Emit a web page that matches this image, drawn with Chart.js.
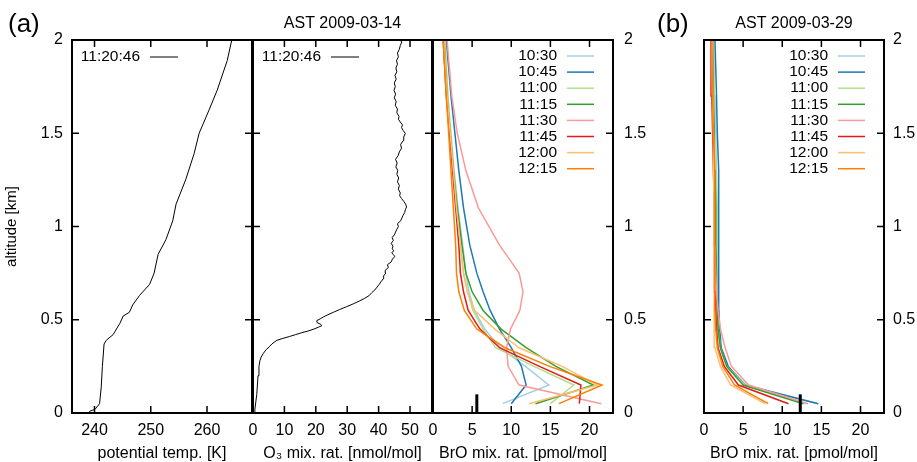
<!DOCTYPE html>
<html>
<head>
<meta charset="utf-8">
<title>Vertical profiles</title>
<script src="https://cdn.jsdelivr.net/npm/chart.js"></script>
<style>
  body { margin: 0; background: #fff; }
  #wrap { position: relative; width: 917px; height: 462px; }
  #wrap canvas { position: absolute; left: 0; top: 0; }
</style>
</head>
<body>
<div id="wrap">
  <canvas id="thetaChart" width="917" height="462"></canvas>
  <canvas id="ozoneChart" width="917" height="462"></canvas>
  <canvas id="broChartA" width="917" height="462"></canvas>
  <canvas id="broChartB" width="917" height="462"></canvas>
</div>
<script>
// ---- axis ticks ----
const altTicks = [0, 0.5, 1, 1.5, 2];
const altTickLabels = ['0', '0.5', '1', '1.5', '2'];
const thetaTicks = [240, 250, 260];
const ozoneTicks = [0, 10, 20, 30, 40, 50];
const broTicks = [0, 5, 10, 15, 20];

// ---- radiosonde / ozonesonde (2009-03-14) ----
const sondeTime = '11:20:46';
const thetaAlt = [0.0, 0.01, 0.02, 0.05, 0.14, 0.25, 0.37, 0.39, 0.42, 0.48, 0.52, 0.54, 0.58, 0.63,
  0.69, 0.75, 0.85, 0.93, 1.03, 1.12, 1.25, 1.39, 1.5, 1.62, 1.73, 1.89, 2.0];
const thetaK = [238.9, 239.2, 240.1, 240.9, 241.2, 241.4, 241.7, 242.1, 243.3, 244.5, 245.1, 246.2, 246.8, 248.0,
  249.8, 250.6, 251.3, 252.7, 253.9, 254.5, 256.2, 257.7, 258.6, 260.3, 261.8, 263.6, 264.4];

const ozoneAlt = [0.0, 0.02, 0.06, 0.10, 0.15, 0.20, 0.25, 0.28, 0.30, 0.32, 0.34, 0.355, 0.37, 0.38, 0.39,
  0.40, 0.41, 0.42, 0.43, 0.44, 0.45, 0.46, 0.468, 0.475, 0.485, 0.495, 0.505, 0.515, 0.525, 0.54,
  0.555, 0.57, 0.585, 0.60, 0.615, 0.63, 0.645, 0.66, 0.675, 0.69, 0.705, 0.72, 0.735, 0.75, 0.765,
  0.78, 0.795, 0.81, 0.825, 0.84, 0.85, 0.86, 0.87, 0.88, 0.895, 0.91, 0.925, 0.94, 0.955, 0.97,
  0.985, 1.00, 1.015, 1.03, 1.045, 1.06, 1.075, 1.09, 1.105, 1.12, 1.135, 1.15, 1.165, 1.18, 1.20,
  1.22, 1.24, 1.26, 1.28, 1.30, 1.32, 1.34, 1.36, 1.38, 1.40, 1.42, 1.44, 1.46, 1.48, 1.50,
  1.515, 1.53, 1.545, 1.56, 1.575, 1.59, 1.61, 1.63, 1.65, 1.67, 1.69, 1.71, 1.73, 1.75, 1.77,
  1.79, 1.81, 1.83, 1.85, 1.87, 1.89, 1.91, 1.93, 1.95, 1.97, 1.99, 2.0];
const ozoneVal = [0.4, 0.6, 0.9, 1.2, 1.4, 1.6, 1.9, 2.2, 2.6, 3.3, 4.2, 5.2, 6.0, 6.8, 7.6,
  9.5, 11.6, 13.5, 15.4, 17.6, 19.4, 20.8, 21.9, 21.6, 20.4, 20.3, 21.4, 22.4, 23.6, 25.6,
  27.6, 29.8, 31.9, 33.8, 35.6, 37.0, 37.8, 38.8, 39.5, 40.2, 40.8, 41.5, 41.6, 42.3, 42.1,
  43.1, 42.8, 44.0, 44.4, 45.2, 44.6, 44.2, 44.9, 44.3, 44.6, 44.0, 44.7, 44.3, 45.0, 45.4,
  45.8, 46.3, 46.0, 47.0, 47.4, 47.8, 48.3, 48.5, 48.9, 48.6, 48.0, 47.3, 46.7, 46.9, 46.3,
  46.6, 46.0, 46.4, 45.8, 46.1, 45.5, 45.9, 45.4, 46.2, 46.6, 47.3, 47.0, 47.8, 48.0, 48.5,
  47.8, 47.3, 47.6, 46.9, 46.3, 46.5, 45.8, 46.0, 45.3, 45.6, 45.0, 45.4, 44.9, 45.3, 45.0,
  45.6, 45.2, 45.8, 45.5, 46.0, 45.7, 46.3, 46.0, 46.6, 46.9, 47.4, 47.2];

// ---- MAX-DOAS BrO profiles ----
const scanTimes = ['10:30', '10:45', '11:00', '11:15', '11:30', '11:45', '12:00', '12:15'];
const broAlt = [0.05, 0.15, 0.25, 0.35, 0.45, 0.55, 0.65, 0.75, 0.9, 1.1, 1.3, 1.5, 1.7, 2.0];

// 2009-03-14
const bro0314_1030 = [8.9, 14.8, 11.8, 8.6, 6.6, 5.3, 4.6, 4.2, 3.8, 3.2, 2.7, 2.3, 1.9, 1.5];
const bro0314_1045 = [10.0, 11.9, 11.3, 10.0, 8.5, 7.3, 6.4, 5.6, 4.7, 3.9, 3.3, 2.8, 2.3, 1.7];
const bro0314_1100 = [15.0, 18.0, 12.9, 8.0, 6.4, 5.1, 4.4, 3.9, 3.5, 3.1, 2.6, 2.2, 1.9, 1.5];
const bro0314_1115 = [13.1, 20.5, 15.7, 11.9, 8.7, 6.4, 5.0, 4.2, 3.7, 3.1, 2.6, 2.2, 1.8, 1.4];
const bro0314_1130 = [21.5, 11.0, 9.6, 9.4, 9.9, 11.1, 11.5, 11.0, 8.5, 5.8, 4.2, 3.1, 2.4, 1.8];
const bro0314_1145 = [18.7, 18.9, 13.6, 8.5, 6.0, 4.5, 3.9, 3.5, 3.3, 2.9, 2.5, 2.1, 1.7, 1.3];
const bro0314_1200 = [12.3, 21.0, 16.5, 11.0, 7.9, 5.3, 4.4, 3.9, 3.5, 3.0, 2.6, 2.2, 1.8, 1.4];
const bro0314_1215 = [16.1, 21.6, 14.9, 9.2, 5.6, 4.0, 3.3, 3.0, 2.9, 2.6, 2.3, 2.0, 1.7, 1.3];

// 2009-03-29
const bro0329_1030 = [14.6, 5.4, 3.0, 2.1, 1.9, 1.8, 1.7, 1.7, 1.7, 1.7, 1.6, 1.5, 1.4, 1.3];
const bro0329_1045 = [14.6, 5.2, 3.1, 2.2, 2.0, 1.9, 1.9, 1.9, 1.9, 1.9, 1.8, 1.7, 1.6, 1.4];
const bro0329_1100 = [13.0, 5.2, 2.9, 2.1, 1.8, 1.7, 1.6, 1.6, 1.6, 1.6, 1.5, 1.4, 1.3, 1.2];
const bro0329_1115 = [12.7, 5.0, 2.9, 2.1, 1.8, 1.7, 1.6, 1.6, 1.5, 1.5, 1.4, 1.3, 1.2, 1.1];
const bro0329_1130 = [13.3, 5.7, 3.5, 2.7, 2.1, 1.8, 1.6, 1.5, 1.4, 1.3, 1.3, 1.2, 1.1, 1.1];
const bro0329_1145 = [10.8, 4.4, 2.6, 1.8, 1.6, 1.5, 1.4, 1.4, 1.3, 1.3, 1.2, 1.1, 1.0, 0.9];
const bro0329_1200 = [7.8, 3.4, 2.1, 1.4, 1.3, 1.3, 1.3, 1.3, 1.3, 1.3, 1.2, 1.2, 1.1, 1.0];
const bro0329_1215 = [8.2, 3.9, 2.4, 1.7, 1.5, 1.4, 1.4, 1.4, 1.4, 1.4, 1.3, 1.2, 1.1, 1.0];

// surface BrO (bar from ground up to barTop)
const surfaceBro0314 = 5.6;
const surfaceBro0329 = 12.3;
const barTop = 0.1;

const scanColors = ['#a6cee3', '#1f78b4', '#b2df8a', '#33a02c', '#fb9a99', '#e31a1c', '#fdbf6f', '#ff7f00'];
const FONT = '"Liberation Sans", Arial, Helvetica, sans-serif';

Chart.defaults.font.family = FONT;
Chart.defaults.font.size = 16;
Chart.defaults.color = '#000';

const pairs = (xs, ys) => xs.map((v, i) => ({ x: v, y: ys[i] }));

// gnuplot-like border with inward ticks on all four sides
const TICK_LEN = 7;
const framePlugin = {
  id: 'frame',
  afterDraw(chart) {
    const { ctx, chartArea: a, scales: { x, y } } = chart;
    ctx.save();
    ctx.strokeStyle = '#000';
    ctx.lineWidth = 1.5;
    ctx.beginPath();
    x.ticks.forEach(t => {
      if (t.value <= x.min || t.value >= x.max) return;
      const px = x.getPixelForValue(t.value);
      ctx.moveTo(px, a.bottom); ctx.lineTo(px, a.bottom - TICK_LEN);
      ctx.moveTo(px, a.top); ctx.lineTo(px, a.top + TICK_LEN);
    });
    y.ticks.forEach(t => {
      if (t.value <= y.min || t.value >= y.max) return;
      const py = y.getPixelForValue(t.value);
      ctx.moveTo(a.left, py); ctx.lineTo(a.left + TICK_LEN, py);
      ctx.moveTo(a.right, py); ctx.lineTo(a.right - TICK_LEN, py);
    });
    ctx.stroke();
    ctx.lineWidth = 2;
    ctx.strokeRect(a.left, a.top, a.right - a.left, a.bottom - a.top);
    ctx.restore();
  }
};

// key: right-justified text followed by a line sample
const keyPlugin = {
  id: 'key',
  afterDraw(chart, args, opts) {
    if (!opts.anchor) return;
    const { ctx, chartArea: a } = chart;
    const base = opts.anchor === 'left' ? a.left : a.right;
    const items = chart.data.datasets.filter(d => d.label);
    ctx.save();
    ctx.font = '15.5px ' + FONT;
    ctx.textAlign = 'right';
    ctx.textBaseline = 'middle';
    ctx.fillStyle = '#000';
    items.forEach((d, i) => {
      const yy = a.top + opts.first + i * opts.step;
      ctx.fillText(d.label, base + opts.textEnd, yy);
      ctx.strokeStyle = d.borderColor;
      ctx.lineWidth = d.borderWidth;
      ctx.beginPath();
      ctx.moveTo(base + opts.lineFrom, yy);
      ctx.lineTo(base + opts.lineTo, yy);
      ctx.stroke();
    });
    ctx.restore();
  }
};

// panel heading and (a)/(b) tag
const headPlugin = {
  id: 'head',
  afterDraw(chart, args, opts) {
    const { ctx, chartArea: a } = chart;
    ctx.save();
    ctx.fillStyle = '#000';
    ctx.textBaseline = 'alphabetic';
    if (opts.title) {
      ctx.font = '16px ' + FONT;
      ctx.textAlign = 'center';
      ctx.fillText(opts.title, (a.left + a.right) / 2, a.top - 12);
    }
    if (opts.tag) {
      ctx.font = '26px ' + FONT;
      ctx.textAlign = 'left';
      ctx.fillText(opts.tag, opts.tagX, 32);
    }
    ctx.restore();
  }
};

function xScale(min, max, ticks, title) {
  return {
    type: 'linear', position: 'bottom', min, max,
    afterBuildTicks: s => { s.ticks = ticks.map(v => ({ value: v })); },
    afterFit: s => { s.height = 49; },
    grid: { display: false, drawTicks: false },
    border: { display: false },
    ticks: { padding: 8, autoSkip: false, maxRotation: 0, callback: v => String(v) },
    title: { display: true, text: title, font: { size: 16, lineHeight: 1 }, padding: 0 }
  };
}

function yScale(position, width, pad, title) {
  const s = {
    type: 'linear', position, min: 0, max: 2,
    afterBuildTicks: sc => { sc.ticks = altTicks.map(v => ({ value: v })); },
    grid: { display: false, drawTicks: false },
    border: { display: false },
    display: width > 0,
    ticks: { padding: pad, autoSkip: false, callback: (v, i) => altTickLabels[i] }
  };
  if (width > 0) s.afterFit = sc => { sc.width = width; };
  if (title) s.title = { display: true, text: title, font: { size: 15 }, padding: { top: 3, bottom: 0 } };
  return s;
}

function makeChart(id, datasets, scales, padding, plugins) {
  return new Chart(document.getElementById(id), {
    type: 'scatter',
    data: { datasets },
    options: {
      responsive: false,
      animation: false,
      devicePixelRatio: 1,
      events: [],
      layout: { padding },
      elements: { point: { radius: 0 }, line: { tension: 0 } },
      scales,
      plugins: Object.assign({ legend: { display: false }, tooltip: { enabled: false } }, plugins)
    },
    plugins: [framePlugin, keyPlugin, headPlugin]
  });
}

function sondeSet(xs, ys) {
  return { label: sondeTime, data: pairs(xs, ys), showLine: true, borderColor: '#000', borderWidth: 1 };
}

function broSets(series, surface) {
  const sets = series.map((vals, i) => ({
    label: scanTimes[i],
    data: pairs(vals, broAlt),
    showLine: true,
    borderColor: scanColors[i],
    borderWidth: 1.5,
    order: series.length - i
  }));
  sets.push({
    data: [{ x: surface, y: 0 }, { x: surface, y: barTop }],
    showLine: true, borderColor: '#000', borderWidth: 3, order: 0
  });
  return sets;
}

const sondeKey = { anchor: 'left', first: 17, step: 16, textEnd: 68, lineFrom: 78, lineTo: 106 };
const scanKey = { anchor: 'right', first: 16, step: 16.1, textEnd: -56, lineFrom: -46, lineTo: -19 };

// (a) potential temperature
makeChart('thetaChart',
  [sondeSet(thetaK, thetaAlt)],
  { x: xScale(236, 268, thetaTicks, 'potential temp. [K]'), y: yScale('left', 72, 9, 'altitude [km]') },
  { left: 0, top: 40, right: 917 - 252, bottom: 0 },
  { key: sondeKey, head: { tag: '(a)', tagX: 8 } });

// (a) ozone
makeChart('ozoneChart',
  [sondeSet(ozoneVal, ozoneAlt)],
  { x: xScale(0, 57, ozoneTicks, 'O₃ mix. rat. [nmol/mol]'), y: yScale('left', 0, 0) },
  { left: 253, top: 40, right: 917 - 432, bottom: 0 },
  { key: sondeKey, head: { title: 'AST 2009-03-14' } });

// (a) BrO
makeChart('broChartA',
  broSets([bro0314_1030, bro0314_1045, bro0314_1100, bro0314_1115,
           bro0314_1130, bro0314_1145, bro0314_1200, bro0314_1215], surfaceBro0314),
  { x: xScale(0, 23, broTicks, 'BrO mix. rat. [pmol/mol]'), y: yScale('right', 40, 11) },
  { left: 433, top: 40, right: 917 - 613 - 40, bottom: 0 },
  { key: scanKey });

// (b) BrO
makeChart('broChartB',
  broSets([bro0329_1030, bro0329_1045, bro0329_1100, bro0329_1115,
           bro0329_1130, bro0329_1145, bro0329_1200, bro0329_1215], surfaceBro0329),
  { x: xScale(0, 23, broTicks, 'BrO mix. rat. [pmol/mol]'), y: yScale('right', 33, 9) },
  { left: 704, top: 40, right: 917 - 884 - 33, bottom: 0 },
  { key: scanKey, head: { title: 'AST 2009-03-29', tag: '(b)', tagX: 657 } });
</script>
</body>
</html>
